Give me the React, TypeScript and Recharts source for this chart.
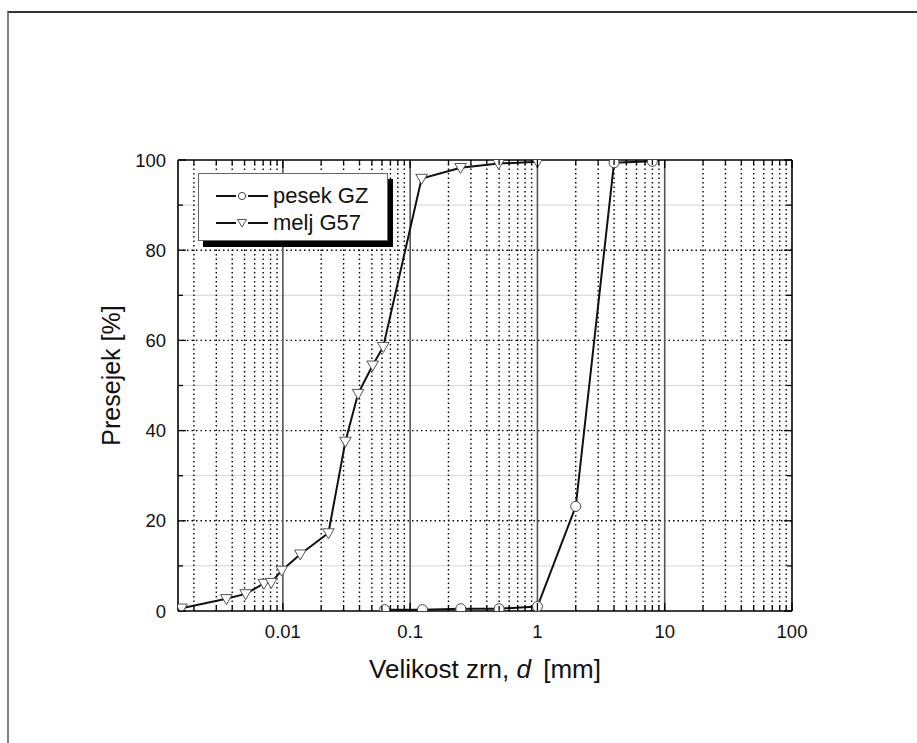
import { LineChart, Line, XAxis, YAxis, ReferenceLine, Label } from 'recharts'

// sieve curves (x = grain size in mm, y = passing %)
const pesekX = [0.063, 0.125, 0.25, 0.5, 1, 2, 4, 8]
const pesekY = [0.3, 0.3, 0.5, 0.5, 1.0, 23.2, 99.4, 99.7]

const meljX = [0.0016, 0.0036, 0.0051, 0.0071, 0.0081, 0.0098, 0.0137, 0.0228, 0.031, 0.039, 0.0508, 0.0615, 0.123, 0.249, 0.495, 1.0]
const meljY = [0.6, 2.7, 3.8, 6.1, 6.3, 9.0, 12.6, 17.3, 37.6, 48.2, 54.5, 58.6, 95.9, 98.3, 99.2, 99.6]

const xMajorTicks = [0.01, 0.1, 1, 10, 100]
const xMinorTicks = [
  0.002, 0.003, 0.004, 0.005, 0.006, 0.007, 0.008, 0.009,
  0.02, 0.03, 0.04, 0.05, 0.06, 0.07, 0.08, 0.09,
  0.2, 0.3, 0.4, 0.5, 0.6, 0.7, 0.8, 0.9,
  2, 3, 4, 5, 6, 7, 8, 9,
  20, 30, 40, 50, 60, 70, 80, 90,
]
const yMajorTicks = [0, 20, 40, 60, 80, 100]
const yMinorTicks = [10, 30, 50, 70, 90]

const seriesNames = ['pesek GZ', 'melj G57']

const pesekData = pesekX.map((x, i) => ({ x, y: pesekY[i] }))
const meljData = meljX.map((x, i) => ({ x, y: meljY[i] }))
const xTicks = [...xMinorTicks, ...xMajorTicks].sort((a, b) => a - b)
const yTicks = [...yMajorTicks, ...yMinorTicks].sort((a, b) => a - b)

const FONT = 'Arial, "Liberation Sans", sans-serif'
const X_DOMAIN: [number, number] = [0.0015, 100]

function BottomTick(props: any) {
  const { y, payload } = props
  const x = payload.coordinate
  const major = xMajorTicks.includes(payload.value)
  return (
    <g>
      <line x1={x} x2={x} y1={y} y2={y - (major ? 8 : 5)} stroke="#000" strokeWidth={1.3} />
      {major && (
        <text x={x} y={y + 27} textAnchor="middle" fontSize={18.5} fontFamily={FONT} fill="#111">
          {String(payload.value)}
        </text>
      )}
    </g>
  )
}

function TopTick(props: any) {
  const { y, payload } = props
  const x = payload.coordinate
  const major = xMajorTicks.includes(payload.value)
  return <line x1={x} x2={x} y1={y} y2={y + (major ? 8 : 5)} stroke="#000" strokeWidth={1.3} />
}

function LeftTick(props: any) {
  const { x, payload } = props
  const y = payload.coordinate
  const major = yMajorTicks.includes(payload.value)
  return (
    <g>
      <line x1={x} x2={x + (major ? 8 : 5)} y1={y} y2={y} stroke="#000" strokeWidth={1.3} />
      {major && (
        <text x={x - 12} y={y + 6.5} textAnchor="end" fontSize={18.5} fontFamily={FONT} fill="#111">
          {payload.value}
        </text>
      )}
    </g>
  )
}

function RightTick(props: any) {
  const { x, payload } = props
  const y = payload.coordinate
  const major = yMajorTicks.includes(payload.value)
  return <line x1={x} x2={x - (major ? 8 : 5)} y1={y} y2={y} stroke="#000" strokeWidth={1.3} />
}

function CircleDot(props: any) {
  const { cx, cy, index } = props
  if (cx == null || cy == null) return <g key={`c-${index}`} />
  return <circle key={`c-${index}`} cx={cx} cy={cy} r={5} fill="#fff" stroke="#444" strokeWidth={1} />
}

function TriangleDot(props: any) {
  const { cx, cy, index } = props
  if (cx == null || cy == null) return <g key={`t-${index}`} />
  const pts = `${cx - 5.8},${cy - 4.2} ${cx + 5.8},${cy - 4.2} ${cx},${cy + 5.8}`
  return <polygon key={`t-${index}`} points={pts} fill="#fff" stroke="#555" strokeWidth={1} />
}

function XTitle(props: any) {
  const { x, y, width } = props.viewBox
  return (
    <text x={x + width / 2} y={y + 67} textAnchor="middle" fontSize={26} fontFamily={FONT} fill="#111">
      Velikost zrn, <tspan fontStyle="italic">d</tspan>
      <tspan dx={5}> [mm]</tspan>
    </text>
  )
}

function YTitle(props: any) {
  const { y, height } = props.viewBox
  const cx = 120
  const cy = y + height / 2 - 10
  return (
    <text x={cx} y={cy} transform={`rotate(-90, ${cx}, ${cy})`} textAnchor="middle" fontSize={25} fontFamily={FONT} fill="#111">
      Presejek [%]
    </text>
  )
}

function LegendBox() {
  const rows = [
    { name: seriesNames[0], shape: 'circle' },
    { name: seriesNames[1], shape: 'triangle' },
  ]
  return (
    <div
      style={{
        position: 'absolute',
        left: 198,
        top: 173,
        width: 190,
        height: 68,
        boxSizing: 'border-box',
        border: '1px solid #666',
        background: '#fff',
        boxShadow: '5px 6px 0 #000',
        fontFamily: FONT,
      }}
    >
      {rows.map((r, i) => (
        <div key={r.name} style={{ position: 'absolute', left: 0, top: 9 + i * 26.5, height: 26, width: 188 }}>
          <svg width={60} height={26} style={{ position: 'absolute', left: 16, top: 0 }}>
            <line x1={1} x2={21} y1={13} y2={13} stroke="#111" strokeWidth={2} />
            <line x1={33} x2={53} y1={13} y2={13} stroke="#111" strokeWidth={2} />
            {r.shape === 'circle' ? (
              <circle cx={27} cy={13} r={3.6} fill="#fff" stroke="#444" strokeWidth={1} />
            ) : (
              <polygon points="22.5,9.5 31.5,9.5 27,17" fill="#fff" stroke="#555" strokeWidth={1} />
            )}
          </svg>
          <span style={{ position: 'absolute', left: 74, top: 0, lineHeight: '26px', fontSize: 22, color: '#111', whiteSpace: 'nowrap' }}>
            {r.name}
          </span>
        </div>
      ))}
    </div>
  )
}

export default function App() {
  return (
    <div style={{ position: 'absolute', left: 0, top: 0, width: 917, height: 743, background: '#fff', overflow: 'hidden' }}>
      <div
        style={{
          position: 'absolute',
          left: 7,
          top: 11,
          width: 920,
          height: 740,
          borderTop: '2px solid #333',
          borderLeft: '2px solid #808080',
        }}
      />
      <div style={{ position: 'absolute', left: 0, top: 0 }}>
        <LineChart width={917} height={743} margin={{ top: 150, right: 115, left: 118, bottom: 102 }}>
          <XAxis
            dataKey="x"
            type="number"
            scale="log"
            domain={X_DOMAIN}
            allowDataOverflow
            ticks={xTicks}
            interval={0}
            tick={<BottomTick />}
            tickLine={false}
            tickSize={0}
            tickMargin={0}
            height={30}
            axisLine={{ stroke: '#000', strokeWidth: 1.6 }}
          >
            <Label content={<XTitle />} />
          </XAxis>
          <XAxis
            xAxisId="top"
            orientation="top"
            dataKey="x"
            type="number"
            scale="log"
            domain={X_DOMAIN}
            allowDataOverflow
            ticks={xTicks}
            interval={0}
            tick={<TopTick />}
            tickLine={false}
            tickSize={0}
            tickMargin={0}
            height={10}
            axisLine={{ stroke: '#000', strokeWidth: 1.6 }}
          />
          <YAxis
            type="number"
            domain={[0, 100]}
            allowDataOverflow
            ticks={yTicks}
            interval={0}
            tick={<LeftTick />}
            tickLine={false}
            tickSize={0}
            tickMargin={0}
            width={60}
            axisLine={{ stroke: '#000', strokeWidth: 1.6 }}
          >
            <Label content={<YTitle />} />
          </YAxis>
          <YAxis
            yAxisId="right"
            orientation="right"
            type="number"
            domain={[0, 100]}
            allowDataOverflow
            ticks={yTicks}
            interval={0}
            tick={<RightTick />}
            tickLine={false}
            tickSize={0}
            tickMargin={0}
            width={10}
            axisLine={{ stroke: '#000', strokeWidth: 1.6 }}
          />

          {yMinorTicks.map((v) => (
            <ReferenceLine key={`ym-${v}`} y={v} stroke="#d4d4d4" strokeWidth={1} />
          ))}
          {xMinorTicks.map((v) => (
            <ReferenceLine key={`xm-${v}`} x={v} stroke="#000" strokeWidth={1.4} strokeDasharray="1.5 3" />
          ))}
          {yMajorTicks.slice(1, -1).map((v) => (
            <ReferenceLine key={`yM-${v}`} y={v} stroke="#000" strokeWidth={1.4} strokeDasharray="1.5 3" />
          ))}
          {xMajorTicks.slice(0, -1).map((v) => (
            <ReferenceLine key={`xM-${v}`} x={v} stroke="#555" strokeWidth={1.6} />
          ))}

          <Line
            data={pesekData}
            dataKey="y"
            name={seriesNames[0]}
            type="linear"
            stroke="#111"
            strokeWidth={2}
            dot={(p: any) => <CircleDot {...p} key={`c-${p.index}`} />}
            activeDot={false}
            isAnimationActive={false}
          />
          <Line
            data={meljData}
            dataKey="y"
            name={seriesNames[1]}
            type="linear"
            stroke="#111"
            strokeWidth={2}
            dot={(p: any) => <TriangleDot {...p} key={`t-${p.index}`} />}
            activeDot={false}
            isAnimationActive={false}
          />
        </LineChart>
      </div>
      <LegendBox />
    </div>
  )
}
